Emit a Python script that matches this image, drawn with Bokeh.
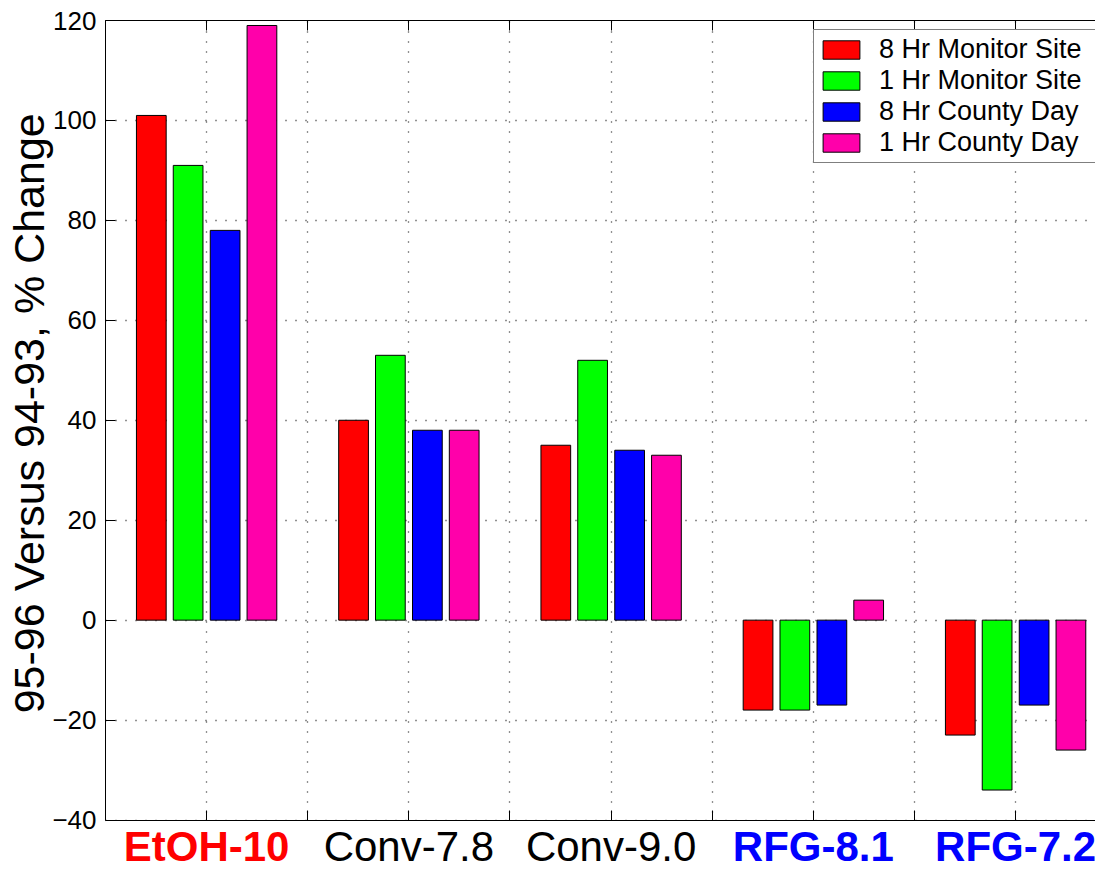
from bokeh.plotting import figure
from bokeh.models import (ColumnDataSource, FixedTicker, LinearAxis, Legend,
                          LegendItem, Range1d, BoxAnnotation)
from bokeh.transform import dodge
from bokeh.embed import file_html
from bokeh.resources import INLINE
from bokeh.core.properties import value

# ---------------- data ----------------
categories = ["EtOH-10", "Conv-7.8", "Conv-9.0", "RFG-8.1", "RFG-7.2"]
category_colors = ["#FF0000", "#000000", "#000000", "#0000FF", "#0000FF"]
category_styles = ["bold", "normal", "normal", "bold", "bold"]

series_names = ["8 Hr Monitor Site", "1 Hr Monitor Site",
                "8 Hr County Day", "1 Hr County Day"]
series_colors = ["#FF0000", "#00FF00", "#0000FF", "#FF00AA"]

hr8_monitor_site = [101, 40, 35, -18, -23]
hr1_monitor_site = [91, 53, 52, -18, -34]
hr8_county_day = [78, 38, 34, -17, -17]
hr1_county_day = [119, 38, 33, 4, -26]

y_min, y_max = -40, 120
y_ticks = [-40, -20, 0, 20, 40, 60, 80, 100, 120]
y_tick_labels = ["\u221240", "\u221220", "0", "20", "40", "60", "80", "100", "120"]
x_ticks = [0.5, 1.0, 1.5, 2.0, 2.5, 3.0, 3.5, 4.0, 4.5, 5.0, 5.5]
y_title = "95-96 Versus 94-93, % Change"

# ---------------- layout constants ----------------
FONT = "Liberation Sans"
BAR_WIDTH = 0.147
OFFSETS = [-0.2735, -0.0915, 0.0915, 0.2735]
LABEL_BAND = 8.5          # value units kept under the axis for the category names
LABEL_Y = y_min - 5.2     # anchor of the category names
# leading no-break spaces lift the centred axis title to the middle of -40..120
TITLE_PAD = "\u00a0\u00a0\u00a0\u00a0\u2009"

xpos = list(range(1, len(categories) + 1))
src = ColumnDataSource(dict(
    x=xpos,
    s0=hr8_monitor_site, s1=hr1_monitor_site,
    s2=hr8_county_day, s3=hr1_county_day,
))

p = figure(width=1095, height=862, title=None,
           x_range=Range1d(0.5, 5.395),
           y_range=Range1d(y_min - LABEL_BAND, y_max),
           x_axis_location=None,
           output_backend="svg", toolbar_location=None,
           min_border_left=105, min_border_right=0,
           min_border_top=20, min_border_bottom=0)
p.outline_line_color = None
p.background_fill_color = "white"
p.border_fill_color = "white"

# ---------------- grid (hidden below the value axis) ----------------
xticker = FixedTicker(ticks=x_ticks, minor_ticks=[])
yticker = FixedTicker(ticks=y_ticks, minor_ticks=[])
p.xgrid.ticker = xticker
p.ygrid.ticker = yticker
for g in (p.xgrid[0], p.ygrid[0]):
    g.grid_line_color = "#222222"
    g.grid_line_dash = "1 9"
    g.grid_line_width = 1.3
p.add_layout(BoxAnnotation(top=y_min, fill_color="white", fill_alpha=1.0,
                           line_color=None, level="underlay"))

renderers = []
for i, (col, color) in enumerate(zip(["s0", "s1", "s2", "s3"], series_colors)):
    r = p.vbar(x=dodge("x", OFFSETS[i], range=p.x_range), top=col, bottom=0,
               width=BAR_WIDTH, source=src, fill_color=color,
               line_color="black", line_width=1)
    renderers.append(r)


# ---------------- axes ----------------
def frame_axis(**extra):
    d = dict(ticker=FixedTicker(ticks=x_ticks, minor_ticks=[]),
             major_label_overrides={t: "" for t in x_ticks},
             major_label_text_font_size="1px", major_label_standoff=0,
             major_tick_in=10, major_tick_out=0,
             minor_tick_line_color=None,
             axis_line_color="black", major_tick_line_color="black")
    d.update(extra)
    return LinearAxis(**d)


p.add_layout(frame_axis(fixed_location=y_min), "below")
p.add_layout(frame_axis(), "above")

ya = p.yaxis[0]
ya.ticker = yticker
ya.bounds = (y_min, y_max)
ya.major_label_overrides = {t: lab for t, lab in zip(y_ticks, y_tick_labels)}
ya.major_label_text_font = FONT
ya.major_label_text_font_size = "26px"
ya.major_label_text_color = "black"
ya.major_label_standoff = 9
ya.major_tick_in = 10
ya.major_tick_out = 0
ya.minor_tick_line_color = None
ya.axis_line_color = "black"
ya.major_tick_line_color = "black"
ya.axis_label = TITLE_PAD + y_title
ya.axis_label_text_font = FONT
ya.axis_label_text_font_size = "43px"
ya.axis_label_text_font_style = "normal"
ya.axis_label_text_color = "black"
ya.axis_label_standoff = -4

# ---------------- coloured category names ----------------
lab_src = ColumnDataSource(dict(
    x=xpos, y=[LABEL_Y] * len(categories), text=categories,
    color=category_colors, style=category_styles,
))
p.text(x="x", y="y", text="text", source=lab_src,
       text_align="center", text_baseline="alphabetic",
       text_font=value(FONT), text_font_size="42px",
       text_color="color", text_font_style="style")

# ---------------- legend ----------------
legend = Legend(items=[LegendItem(label=n, renderers=[r])
                       for n, r in zip(series_names, renderers)],
                location=(708, 699),
                label_text_font=FONT, label_text_font_size="27px",
                label_text_color="black",
                glyph_width=46, glyph_height=23, label_standoff=15,
                label_width=219, padding=4, spacing=0,
                border_line_color="black", border_line_width=1.5,
                background_fill_color="white", background_fill_alpha=1.0)
p.add_layout(legend)

open("out.html", "w").write(file_html(p, INLINE))
